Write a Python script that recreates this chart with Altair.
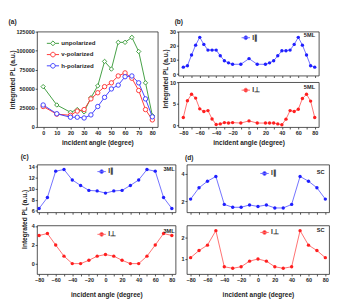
import altair as alt
import pandas as pd

# ---------------- data ----------------
a_angle = [0, 10, 20, 25, 30, 35, 40, 45, 50, 55, 60, 65, 70, 75, 80]
a_unpolarized = [53000, 29000, 19500, 23000, 20000, 38500, 54000, 86000, 76000,
                 111000, 111000, 117500, 99000, 58000, 15000]
a_vpolarized = [27000, 17000, 15500, 21000, 23000, 37000, 45000, 53000, 58000,
                67000, 71000, 64000, 48000, 23000, 9500]
a_hpolarized = [29000, 17500, 13000, 13000, 12000, 16000, 27000, 39000, 50000,
                55000, 66000, 67000, 58000, 37000, 13500]
a_series = ["unpolarized", "v-polarized", "h-polarized"]

b_angle = [-80, -75, -70, -65, -60, -55, -50, -45, -40, -35, -30, -25, -20,
           -10, 0, 10, 20, 25, 30, 35, 40, 45, 50, 55, 60, 65, 70, 75, 80]
b_par = [5, 6, 13.5, 20.5, 26, 21, 17, 17, 17, 13, 9.5, 8, 7,
         7, 11, 7, 7, 8, 9.5, 13, 16.5, 16.5, 17, 21, 26, 20.5, 13.5, 6, 5]
b_perp = [1.8, 5.7, 7.2, 6.3, 3.8, 3.2, 3.4, 1.45, 0.15, 0.3, 0.6, 0.5, 0.6,
          0.5, 1.0, 0.5, 0.5, 0.5, 0.5, 0.3, 0.1, 1.4, 3.4, 3.2, 3.7, 6.2, 7.2, 5.6, 1.8]

cd_angle = [-80, -70, -60, -50, -40, -30, -20, -10, 0, 10, 20, 30, 40, 50, 60, 70, 80]
c_par = [6.4, 8.4, 13.2, 13.5, 11.6, 10.6, 9.7, 9.6, 9.2, 9.6, 9.7, 10.6, 11.6, 13.5, 13.2, 8.4, 6.4]
c_perp = [3.0, 3.2, 2.0, 0.83, 0.05, 0.05, 0.4, 0.83, 1.0, 0.83, 0.4, 0.05, 0.05, 0.83, 2.0, 3.2, 3.0]
d_par = [2.17, 3.0, 3.48, 3.83, 1.78, 1.57, 1.57, 1.74, 1.63, 1.74, 1.52, 1.52, 1.78, 3.83, 3.48, 3.0, 2.17]
d_perp = [1.06, 1.39, 1.64, 2.31, 0.64, 0.57, 0.64, 0.9, 1.0, 0.9, 0.64, 0.57, 0.64, 2.31, 1.64, 1.39, 1.06]

series_par = "I\u2225"
series_perp = "I\u22a5"
panel_tags = ["5ML", "3ML", "SC"]
panel_letters = ["(a)", "(b)", "(c)", "(d)"]
x_title = "incident angle (degree)"
y_title = "Integrated PL (a.u.)"

# ---------------- style ----------------
FONT = "Liberation Sans"
INK = "#1e1e1e"
GREEN, RED_A, BLUE_A = "#3a9a3a", "#ff3030", "#3a3aff"
BLUE_M, BLUE_L = "#1f1fff", "#6a6aff"
RED_M, RED_L = "#ff1f1f", "#ff6a6a"


def line_circle(r, hollow):
    seg = f"M-1,0H{-r}M{r},0H1" if hollow else "M-1,0H1"
    return seg + f"M{r},0A{r},{r},0,1,1,{-r},0A{r},{r},0,1,1,{r},0Z"


def line_diamond(r):
    return f"M-1,0H{-r}M{r},0H1M0,{-r}L{r},0L0,{r}L{-r},0Z"


def legend(x, y, size, fs=7):
    return alt.Legend(title=None, orient="none", legendX=x, legendY=y, padding=0,
                      symbolSize=size, symbolStrokeWidth=1, labelFont=FONT,
                      labelFontSize=fs, labelFontWeight="bold", labelColor=INK,
                      labelOffset=2, rowPadding=0)


# ---------------- panel (a) ----------------
dfa = pd.DataFrame({
    "angle": a_angle * 3,
    "pl": a_unpolarized + a_vpolarized + a_hpolarized,
    "series": [s for s in a_series for _ in a_angle],
})
xa = alt.X("angle:Q", scale=alt.Scale(domain=[-4.5, 84], nice=False, zero=False),
           axis=alt.Axis(values=list(range(0, 81, 10)), title=x_title, titlePadding=4))
ya = alt.Y("pl:Q", scale=alt.Scale(domain=[0, 125000], nice=False),
           axis=alt.Axis(values=list(range(0, 125001, 25000)), format="d",
                         title=y_title, titlePadding=1))
cols_a = [GREEN, RED_A, BLUE_A]
base_a = alt.Chart(dfa).encode(x=xa, y=ya)
line_a = base_a.mark_line(strokeWidth=1).encode(
    color=alt.Color("series:N", scale=alt.Scale(domain=a_series, range=cols_a), legend=None))
pts_a = base_a.mark_point(filled=False, fill="white", size=22, strokeWidth=1, opacity=1).encode(
    color=alt.Color("series:N", scale=alt.Scale(domain=a_series, range=cols_a), legend=None),
    shape=alt.Shape("series:N", scale=alt.Scale(domain=a_series, range=["diamond", "circle", "circle"]),
                    legend=None))
LA = legend(10, 5.5, 169, 6.5)
leg_a = base_a.mark_point(filled=False, size=169, strokeWidth=1, opacity=1).encode(
    stroke=alt.Stroke("series:N", scale=alt.Scale(domain=a_series, range=cols_a), legend=LA),
    shape=alt.Shape("series:N", scale=alt.Scale(
        domain=a_series,
        range=[line_diamond(0.4), line_circle(0.38, True), line_circle(0.38, True)]), legend=LA),
).transform_filter("false")
A = alt.layer(line_a, pts_a, leg_a).resolve_scale(
    shape="independent", stroke="independent", color="independent").properties(
    width=129, height=102,
    title=alt.Title(panel_letters[0], frame="bounds", anchor="start", offset=4))


# ---------------- sub panels (b)(c)(d) ----------------
def sub(angle, vals, name, mc, lc, xdom, ydom, yvals, w, h, tag, tag_xy, leg_xy,
        xlabels, xtitle_pad=4, ytitle_y=None, title=None, title_frame="group", title_dx=0):
    df = pd.DataFrame({"angle": angle, "pl": vals, "series": [name] * len(angle)})
    xkw = dict(values=list(range(-80, 81, 10)),
               labelExpr="datum.value % 20 == 0 ? datum.label : ''")
    if xlabels:
        xaxis = alt.Axis(title=x_title, titlePadding=xtitle_pad, **xkw)
    else:
        xaxis = alt.Axis(title=None, labels=False, **xkw)
    if ytitle_y is not None:
        yaxis = alt.Axis(values=yvals, title=y_title, titleY=ytitle_y, titlePadding=1)
    else:
        yaxis = alt.Axis(values=yvals, title=None)
    base = alt.Chart(df).encode(
        x=alt.X("angle:Q", scale=alt.Scale(domain=xdom, nice=False, zero=False), axis=xaxis),
        y=alt.Y("pl:Q", scale=alt.Scale(domain=ydom, nice=False, zero=False), axis=yaxis))
    line = base.mark_line(color=lc, strokeWidth=1)
    pts = base.mark_point(filled=True, color=mc, size=13, opacity=1)
    L = legend(leg_xy[0], leg_xy[1], 81)
    path = line_circle(0.45, False)
    leg = base.mark_point(filled=True, size=81, strokeWidth=1, opacity=1).encode(
        fill=alt.Fill("series:N", scale=alt.Scale(domain=[name], range=[mc]), legend=L),
        stroke=alt.Stroke("series:N", scale=alt.Scale(domain=[name], range=[lc]), legend=L),
        shape=alt.Shape("series:N", scale=alt.Scale(domain=[name], range=[path]), legend=L),
    ).transform_filter("false")
    tag_layer = alt.Chart(pd.DataFrame({"tag": [tag]})).mark_text(
        align="right", baseline="middle", font=FONT, fontSize=6, fontWeight="bold", color=INK
    ).encode(text="tag:N", x=alt.value(w - tag_xy[0]), y=alt.value(tag_xy[1]))
    ch = alt.layer(line, pts, leg, tag_layer).resolve_scale(
        fill="independent", stroke="independent", shape="independent").properties(width=w, height=h)
    if title:
        ch = ch.properties(title=alt.Title(title, frame=title_frame, anchor="start",
                                           dx=title_dx, offset=4))
    return ch


RES = dict(fill="independent", stroke="independent", shape="independent", color="independent")

b1 = sub(b_angle, b_par, series_par, BLUE_M, BLUE_L, [-86, 85], [-1, 30], [0, 10, 20, 30],
         150, 47, panel_tags[0], (4, 4), (67, 1.5), False, ytitle_y=50,
         title=panel_letters[1], title_frame="group", title_dx=-4)
b2 = sub(b_angle, b_perp, series_perp, RED_M, RED_L, [-86, 85], [-0.45, 10], [0, 5, 10],
         150, 48, panel_tags[0], (4, 5), (67, 3.5), True, xtitle_pad=4)
B = alt.vconcat(b1, b2, spacing=7, bounds="flush").resolve_scale(**RES)

c1 = sub(cd_angle, c_par, series_par, BLUE_M, BLUE_L, [-82.5, 84.5], [5.7, 14.4], [6, 8, 10, 12, 14],
         148, 51, panel_tags[1], (1, 5), (64, 2.5), False, ytitle_y=58,
         title=panel_letters[2], title_frame="bounds")
c2 = sub(cd_angle, c_perp, series_perp, RED_M, RED_L, [-82.5, 84.5], [-1.05, 4.05], [0, 2, 4],
         148, 52, panel_tags[1], (1, 6), (64, 4.5), True, xtitle_pad=9)
C = alt.vconcat(c1, c2, spacing=14, bounds="flush").resolve_scale(**RES)

d1 = sub(cd_angle, d_par, series_par, BLUE_M, BLUE_L, [-84.5, 84.5], [1.2, 4.7], [2, 4],
         152, 51, panel_tags[2], (5, 8), (78, 4.5), False,
         title=panel_letters[3], title_frame="group", title_dx=-2)
d2 = sub(cd_angle, d_perp, series_perp, RED_M, RED_L, [-84.5, 84.5], [0.3, 2.55], [1, 2],
         152, 52, panel_tags[2], (5, 5), (78, 2.5), True, xtitle_pad=9)
D = alt.vconcat(d1, d2, spacing=14, bounds="flush").resolve_scale(**RES)

row1 = alt.hconcat(A, B, spacing=3).resolve_scale(**RES)
row2 = alt.hconcat(C, D, spacing=4).resolve_scale(**RES)

chart = alt.vconcat(row1, row2, spacing=6).resolve_scale(**RES).properties(
    padding={"left": 0, "top": 0, "right": 1, "bottom": 1}, background="white"
).configure_view(stroke=INK, strokeWidth=0.8).configure_axis(
    domain=False, grid=False, ticks=True, tickSize=2, tickColor=INK, tickWidth=0.8,
    labelFont=FONT, labelFontSize=5.8, labelFontWeight="bold", labelColor=INK, labelPadding=1,
    titleFont=FONT, titleFontSize=7, titleFontWeight="bold", titleColor=INK
).configure_title(font=FONT, fontSize=7, fontWeight="bold", color=INK)

chart.save("out.html", embed_options={"renderer": "svg", "actions": False})
